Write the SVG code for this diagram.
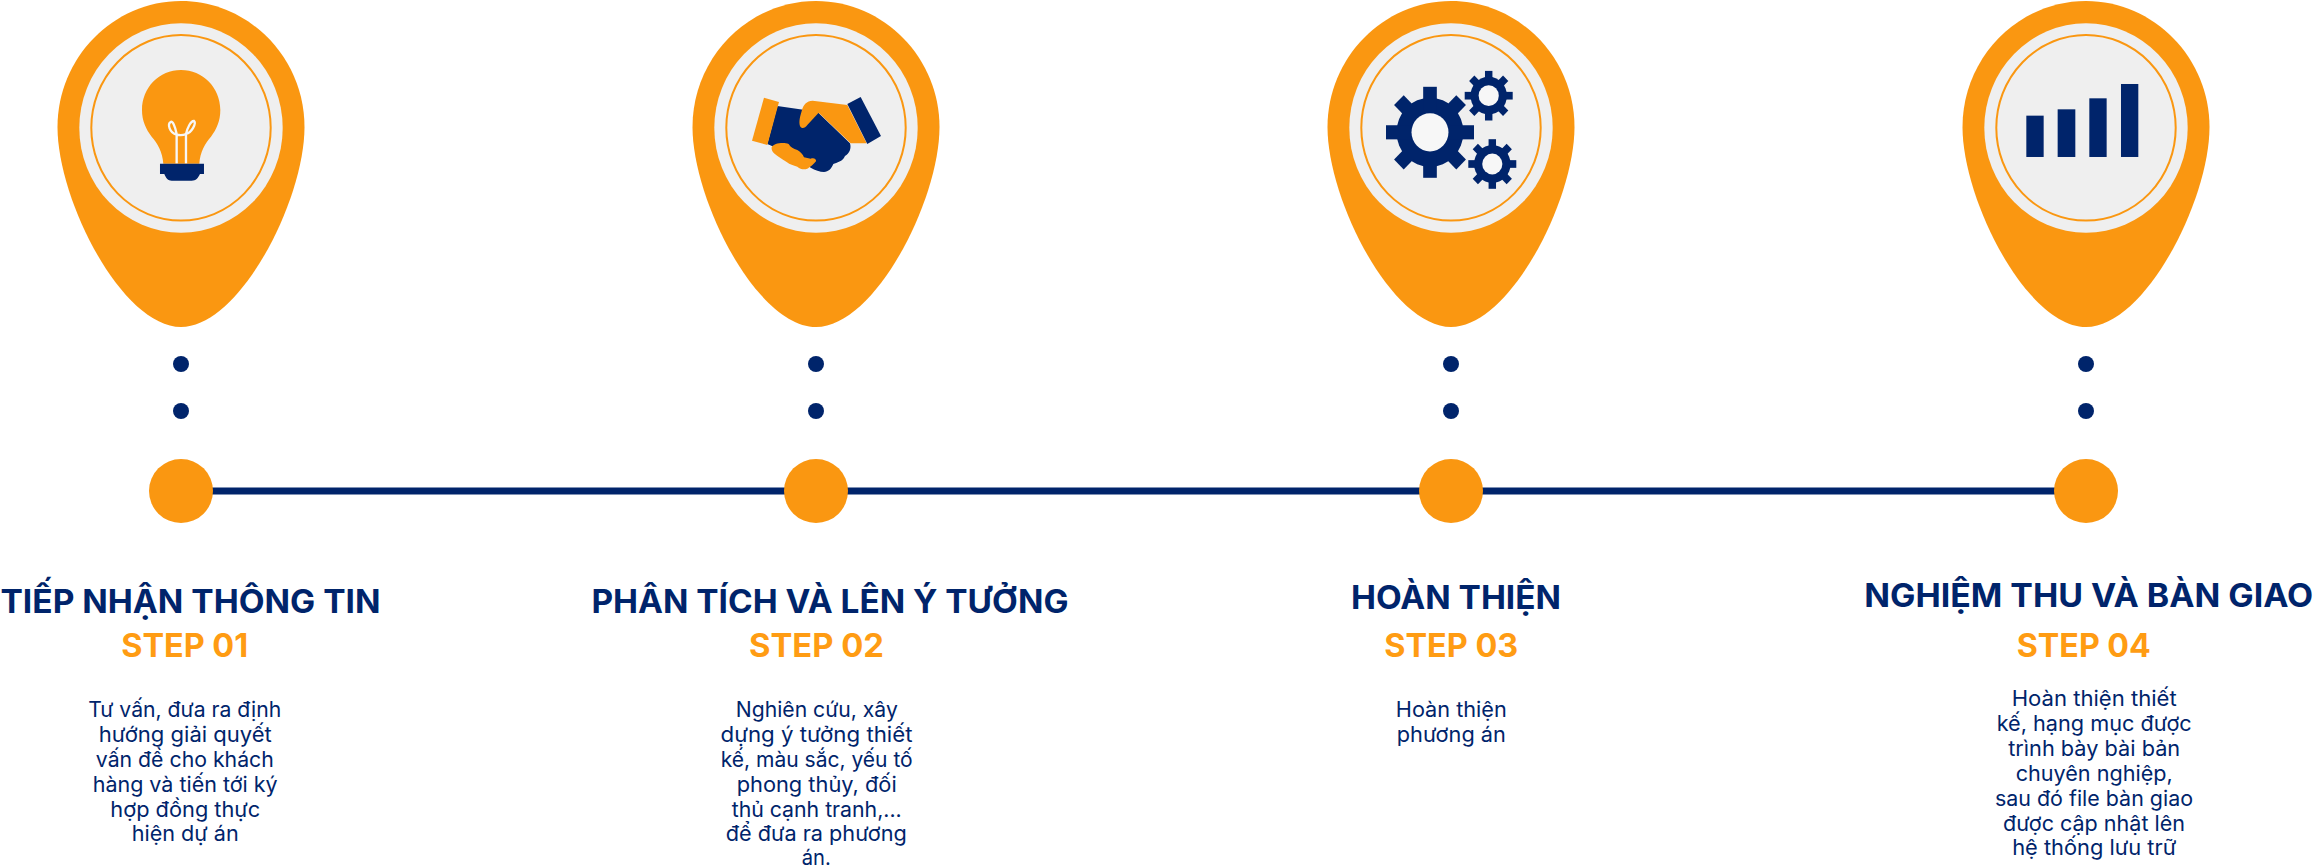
<svg xmlns="http://www.w3.org/2000/svg" xmlns:xlink="http://www.w3.org/1999/xlink" width="2314" height="867" viewBox="0 0 2314 867">
<style>
text{font-family:"Inter","Noto Sans",sans-serif;text-anchor:middle}
.t{font-size:32px;font-weight:700;fill:#00246b}
.s{font-size:32px;font-weight:700;fill:#ff9c13}
.b{font-size:21px;font-weight:400;fill:#00246b}
.o{fill:#fa9711}
.n{fill:#00246b}
.h{fill:#f7f7f7}
</style>
<defs>
<path id="pin" d="M0 1C68 1 123.500 58 123.500 127C123.500 200 59 327 0 327C-59 327 -123.500 200 -123.500 127C-123.500 58 -68 1 0 1Z"/>
<g id="badge">
<use href="#pin" class="o"/>
<ellipse cy="128" rx="101.700" ry="104.700" fill="#efefef"/>
<ellipse cy="127.800" rx="89.700" ry="92.800" fill="none" stroke="#fa9711" stroke-width="2"/>
<circle cy="364" r="8" class="n"/>
<circle cy="411" r="8" class="n"/>
<circle cy="491" r="32" class="o"/>
</g>
<g id="gear">
<circle r="76" class="n"/>
<g class="n">
<rect x="-15.500" y="-100" width="31" height="200"/>
<rect x="-15.500" y="-100" width="31" height="200" transform="rotate(45)"/>
<rect x="-15.500" y="-100" width="31" height="200" transform="rotate(90)"/>
<rect x="-15.500" y="-100" width="31" height="200" transform="rotate(135)"/>
</g>
<circle r="42" class="h"/>
</g>
</defs>
<g id="connectors">
<path d="M181 491H2086" fill="none" stroke="#00246b" stroke-width="7"/>
</g>
<g id="step-1">
<use href="#badge" x="181"/>
<g transform="translate(40 0) scale(.3333)">
<path class="o" d="M423 210C358 210 306 262 306 330C306 362 318 388 335 410C352 430 368 455 370 491H478C480 455 496 430 513 410C530 388 541 362 541 330C541 262 488 210 423 210Z"/>
<path class="n" d="M360 491H492V522H480C474 535 468 542 455 542H395C384 542 378 535 373 522H360Z"/>
<path d="M410 490V402C405 378 398 362 392 366C382 372 388 398 410 404C422 407 430 406 438 402M438 490V402C442 385 452 362 462 363C470 370 455 398 438 402" fill="none" stroke="#f7f7f7" stroke-width="7"/>
</g>
<text class="t" x="190.500" y="612.700" textLength="380" lengthAdjust="spacingAndGlyphs">TIẾP NHẬN THÔNG TIN</text>
<text class="s" x="184.700" y="657" textLength="127" lengthAdjust="spacingAndGlyphs">STEP 01</text>
<text class="b" x="184.700" y="716.700" textLength="193" lengthAdjust="spacingAndGlyphs">Tư vấn, đưa ra định</text>
<text class="b" x="185.300" y="741.700" textLength="173" lengthAdjust="spacingAndGlyphs">hướng giải quyết</text>
<text class="b" x="184.800" y="766.700" textLength="178" lengthAdjust="spacingAndGlyphs">vấn đề cho khách</text>
<text class="b" x="185.200" y="791.700" textLength="185" lengthAdjust="spacingAndGlyphs">hàng và tiến tới ký</text>
<text class="b" x="185.300" y="816.700" textLength="150" lengthAdjust="spacingAndGlyphs">hợp đồng thực</text>
<text class="b" x="185.200" y="841" textLength="107" lengthAdjust="spacingAndGlyphs">hiện dự án</text>
</g>
<g id="step-2">
<use href="#badge" x="816"/>
<g transform="translate(690 0) scale(.3333)">
<path class="n" d="M262 318L345 330L385 338L480 430C485 445 478 462 465 468C458 485 440 488 430 492C425 505 415 516 402 516C390 516 375 510 362 503L320 470L232 432Z"/>
<path class="o" d="M222 293L267 306L232 435L186 422Z"/>
<path class="o" d="M472 315L368 302C350 302 340 315 336 330C330 350 326 365 330 378C335 388 345 385 352 375L386 338L482 430L530 430Z"/>
<path class="n" d="M472 312L512 291L573 408L532 432Z"/>
<path class="o" d="M245 442C250 430 280 426 296 432C302 442 310 446 322 450C332 456 338 462 342 472L362 476C372 472 380 478 378 484C372 492 360 502 352 506C342 510 332 508 322 500C310 496 300 494 290 486C278 480 262 468 252 460C246 454 244 448 245 442Z"/>
</g>
<text class="t" x="830" y="612.700" textLength="477" lengthAdjust="spacingAndGlyphs">PHÂN TÍCH VÀ LÊN Ý TƯỞNG</text>
<text class="s" x="816.500" y="657" textLength="135" lengthAdjust="spacingAndGlyphs">STEP 02</text>
<text class="b" x="816.800" y="716.700" textLength="162" lengthAdjust="spacingAndGlyphs">Nghiên cứu, xây</text>
<text class="b" x="816.500" y="741.700" textLength="192" lengthAdjust="spacingAndGlyphs">dựng ý tưởng thiết</text>
<text class="b" x="816.700" y="766.700" textLength="192" lengthAdjust="spacingAndGlyphs">kế, màu sắc, yếu tố</text>
<text class="b" x="816.700" y="791.700" textLength="160" lengthAdjust="spacingAndGlyphs">phong thủy, đối</text>
<text class="b" x="816.700" y="816.700" textLength="170" lengthAdjust="spacingAndGlyphs">thủ cạnh tranh,...</text>
<text class="b" x="816.300" y="841" textLength="181" lengthAdjust="spacingAndGlyphs">để đưa ra phương</text>
<text class="b" x="816.300" y="865" textLength="29" lengthAdjust="spacingAndGlyphs">án.</text>
</g>
<g id="step-3">
<use href="#badge" x="1451"/>
<use href="#gear" transform="translate(1430 132.300) scale(.44 .455)"/>
<use href="#gear" transform="translate(1488.700 95.700) scale(.24 .248)"/>
<use href="#gear" transform="translate(1492.300 164) scale(.24 .248)"/>
<text class="t" x="1456" y="609" textLength="210" lengthAdjust="spacingAndGlyphs">HOÀN THIỆN</text>
<text class="s" x="1451.200" y="657" textLength="134" lengthAdjust="spacingAndGlyphs">STEP 03</text>
<text class="b" x="1451.300" y="717" textLength="111" lengthAdjust="spacingAndGlyphs">Hoàn thiện</text>
<text class="b" x="1451.300" y="742" textLength="109" lengthAdjust="spacingAndGlyphs">phương án</text>
</g>
<g id="step-4">
<use href="#badge" x="2086"/>
<g class="n" transform="translate(1970 20) scale(.3333)">
<rect x="169" y="287" width="52" height="124"/>
<rect x="263" y="268" width="53" height="143"/>
<rect x="358" y="235" width="52" height="176"/>
<rect x="453" y="192" width="52" height="219"/>
</g>
<text class="t" x="2088.700" y="606.700" textLength="449" lengthAdjust="spacingAndGlyphs">NGHIỆM THU VÀ BÀN GIAO</text>
<text class="s" x="2083.800" y="657" textLength="134" lengthAdjust="spacingAndGlyphs">STEP 04</text>
<text class="b" x="2094.200" y="706" textLength="165" lengthAdjust="spacingAndGlyphs">Hoàn thiện thiết</text>
<text class="b" x="2094.200" y="731" textLength="195" lengthAdjust="spacingAndGlyphs">kế, hạng mục được</text>
<text class="b" x="2094.200" y="756" textLength="172" lengthAdjust="spacingAndGlyphs">trình bày bài bản</text>
<text class="b" x="2094.200" y="781" textLength="157" lengthAdjust="spacingAndGlyphs">chuyên nghiệp,</text>
<text class="b" x="2094" y="806" textLength="198" lengthAdjust="spacingAndGlyphs">sau đó file bàn giao</text>
<text class="b" x="2094" y="831" textLength="182" lengthAdjust="spacingAndGlyphs">được cập nhật lên</text>
<text class="b" x="2094.200" y="855" textLength="164" lengthAdjust="spacingAndGlyphs">hệ thống lưu trữ</text>
</g>
</svg>
